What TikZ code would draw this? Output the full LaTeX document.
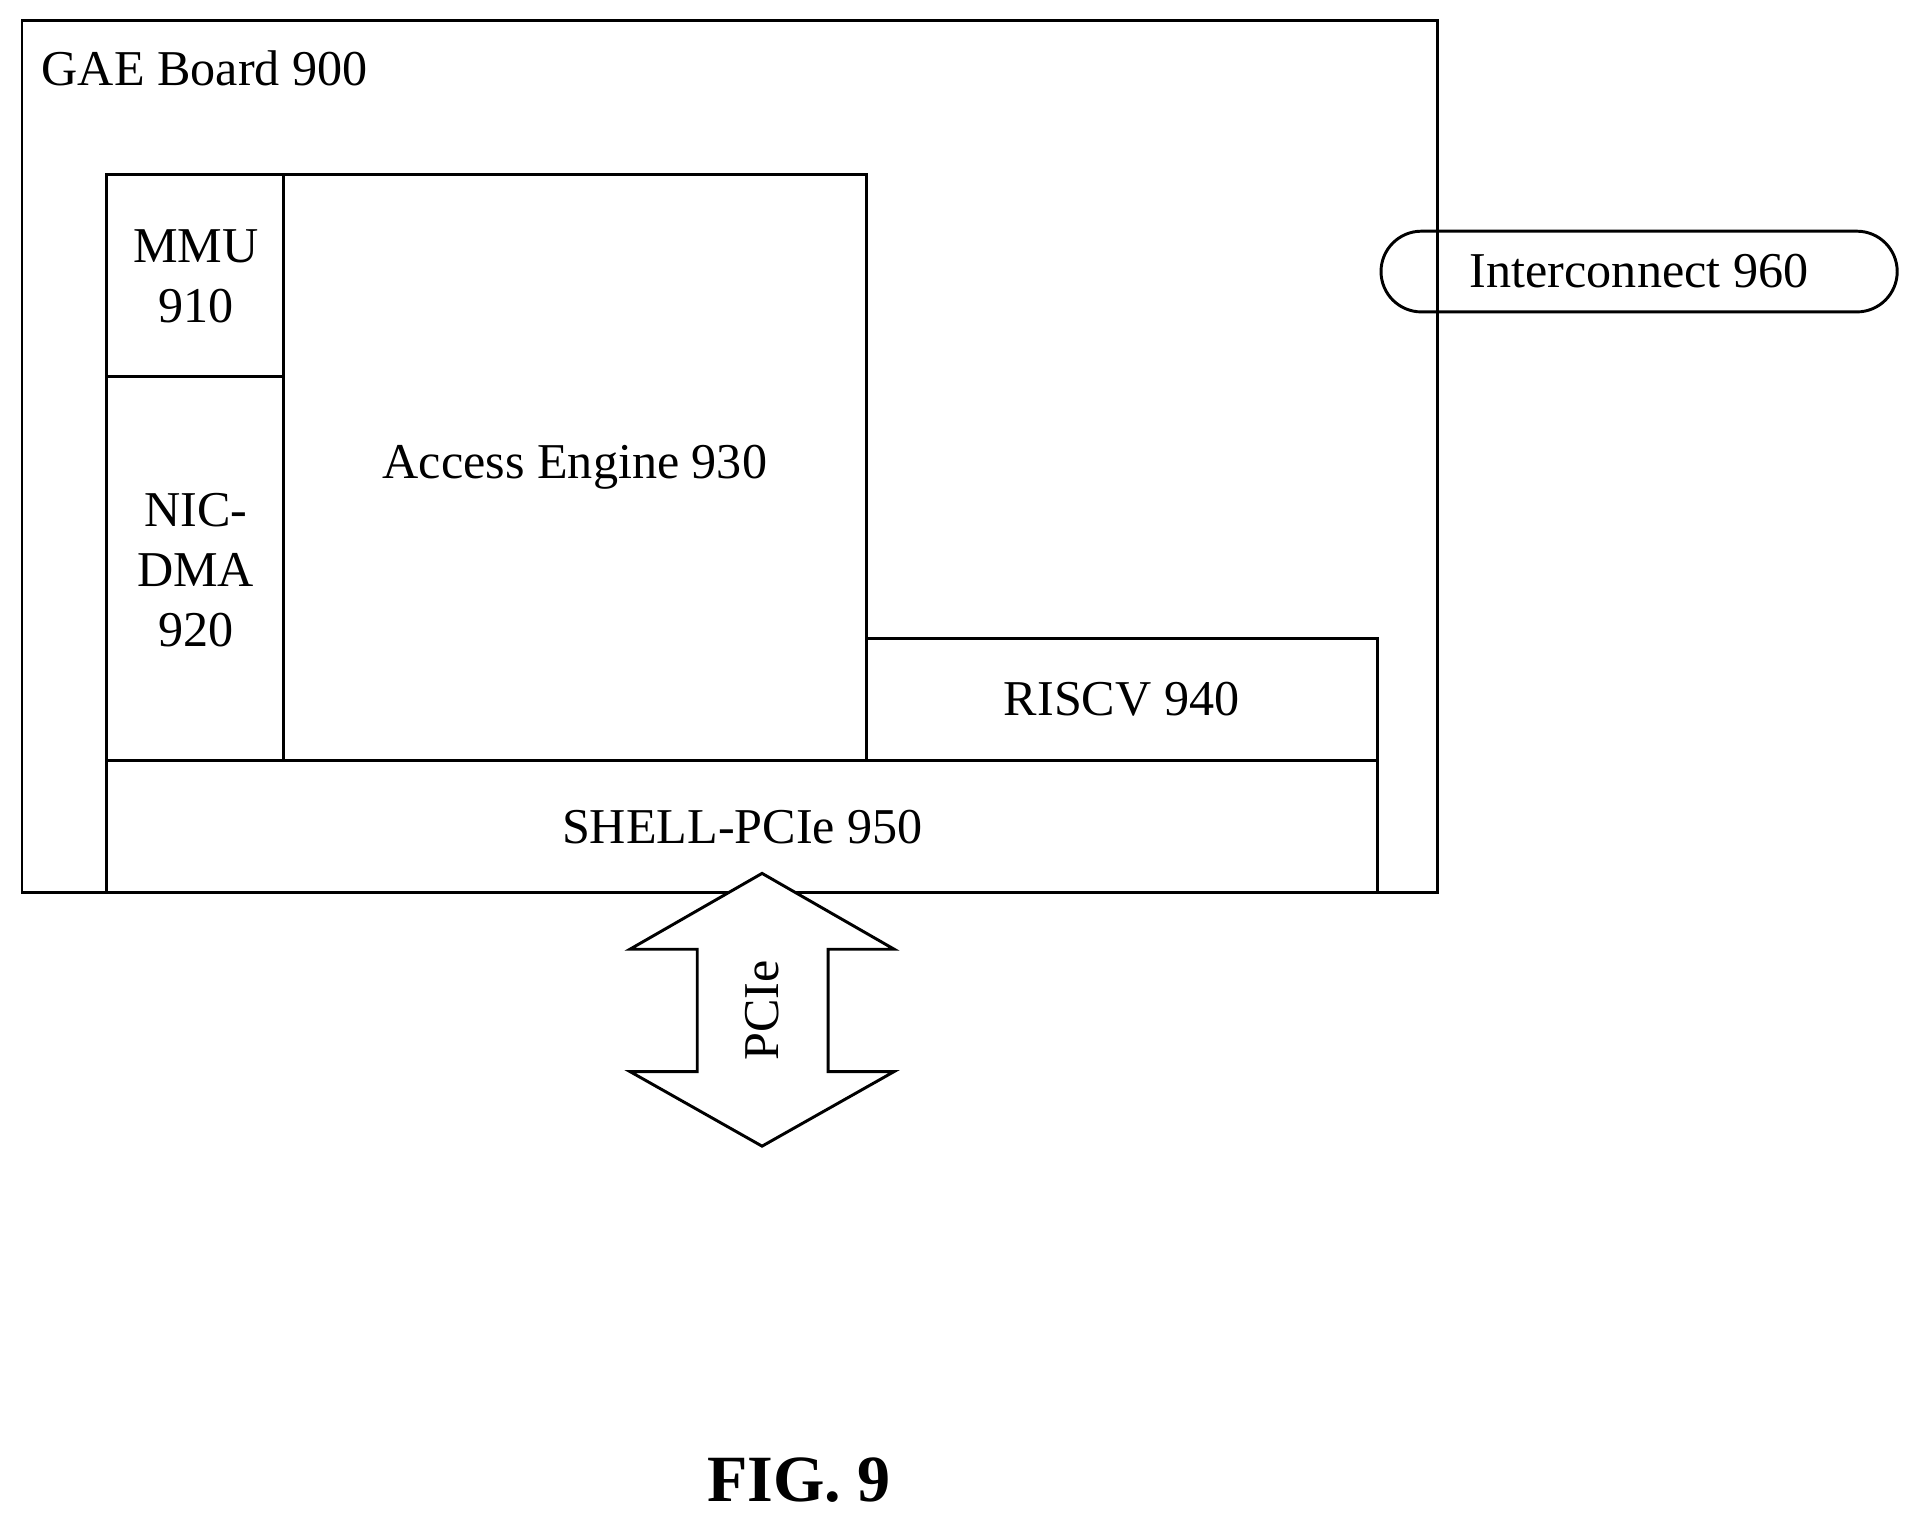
\documentclass[tikz,border=0pt]{standalone}
\usepackage{fontspec}
\setmainfont{Liberation Serif}
\begin{document}
\begin{tikzpicture}[x=0.5pt,y=-0.5pt,
  box/.style={draw,line width=1.2pt},
  lbl/.style={font=\fontsize{20.5}{24.5}\selectfont,align=center}]
\useasboundingbox (0,0) rectangle (1568,1246);
\draw[box] (18,17) rectangle (1175,730);
\node[lbl,anchor=west] (gae) at (27,56) {GAE Board 900};
\draw[box] (87,143) rectangle (232,308);
\node[lbl] (mmu) at (160,226) {MMU\\910};
\draw[box] (87,308) rectangle (232,622);
\node[lbl] (nic) at (160,466) {NIC-\\DMA\\920};
\draw[box] (232,143) rectangle (708,622);
\node[lbl] (ae) at (470,382) {Access Engine 930};
\draw[box] (708,522) rectangle (1126,622);
\node[lbl] (risc) at (917,572) {RISCV 940};
\draw[box] (87,622) rectangle (1126,730);
\node[lbl] (shell) at (607,676) {SHELL-PCIe 950};
\draw[line width=1.2pt,rounded corners=33*0.5pt] (1129,189) rectangle (1551,255);
\node[lbl] (ic) at (1340,222) {Interconnect 960};
\draw[box,fill=white] (623,714) -- (731,776) -- (677,776) -- (677,876) -- (731,876) -- (623,937) -- (515,876) -- (570,876) -- (570,776) -- (515,776) -- cycle;
\node[lbl,rotate=90] (pcie) at (623,826) {PCIe};
\node[font=\fontsize{27}{31}\selectfont\bfseries] (fig) at (653,1210) {FIG. 9};
\end{tikzpicture}
\end{document}
